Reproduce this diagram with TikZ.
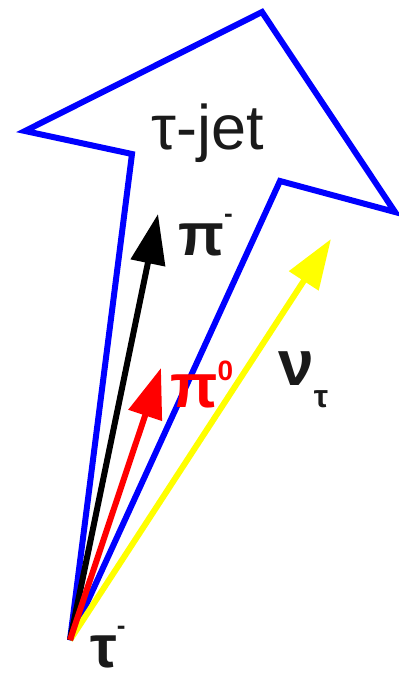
\documentclass[tikz,border=0pt]{standalone}
\usepackage{fontspec}
\setmainfont{Liberation Sans}
\usetikzlibrary{arrows.meta}
\definecolor{jetblue}{RGB}{0,0,255}
\definecolor{nuyellow}{RGB}{255,255,0}
\definecolor{pired}{RGB}{255,0,0}
\definecolor{txtgray}{RGB}{26,26,26}
\begin{document}
\begin{tikzpicture}[x=1pt,y=-1pt,
  jetline/.style={draw=jetblue,line width=6pt,line join=miter,miter limit=5},
  partarrow/.style={line width=6pt,-{Triangle[length=50pt,width=34pt]}},
  lbl/.style={inner sep=0pt,anchor=base west,text=txtgray}]
\useasboundingbox (0,0) rectangle (399,675);
\coordinate (o) at (70,640);
\coordinate (j1) at (132,154);
\coordinate (j2) at (25,131);
\coordinate (j3) at (262,12);
\coordinate (j4) at (395,212);
\coordinate (j5) at (280,181);
\coordinate (pimtip) at (158,214);
\coordinate (pi0tip) at (161,368);
\coordinate (nutip) at (331,239);
\draw[jetline] (o) -- (j1) -- (j2) -- (j3) -- (j4) -- (j5) -- cycle;
\draw[partarrow,draw=nuyellow,fill=nuyellow] (o) -- (nutip);
\draw[partarrow,draw=black,fill=black] (o) -- (pimtip);
\draw[partarrow,draw=pired,fill=pired] (o) -- (pi0tip);
\node[inner sep=0pt,anchor=base,text=txtgray,font=\fontsize{63}{63}\selectfont] (jet) at (208,149) {τ-jet};
\node[lbl,font=\bfseries\fontsize{60}{60}\selectfont] (pim) at (178,255) {π\raisebox{0.55em}{\fontsize{26}{26}\selectfont -}};
\node[lbl,text=pired,font=\bfseries\fontsize{62}{62}\selectfont] (pi0) at (170,407) {π\raisebox{0.42em}{\fontsize{28}{28}\selectfont 0}};
\node[lbl,font=\bfseries\fontsize{64}{64}\selectfont] (nu) at (278,385) {ν\raisebox{-0.35em}{\fontsize{32}{32}\selectfont τ}};
\node[lbl,font=\bfseries\fontsize{60}{60}\selectfont] (tau) at (90,667) {τ\raisebox{0.55em}{\fontsize{26}{26}\selectfont -}};
\end{tikzpicture}
\end{document}
